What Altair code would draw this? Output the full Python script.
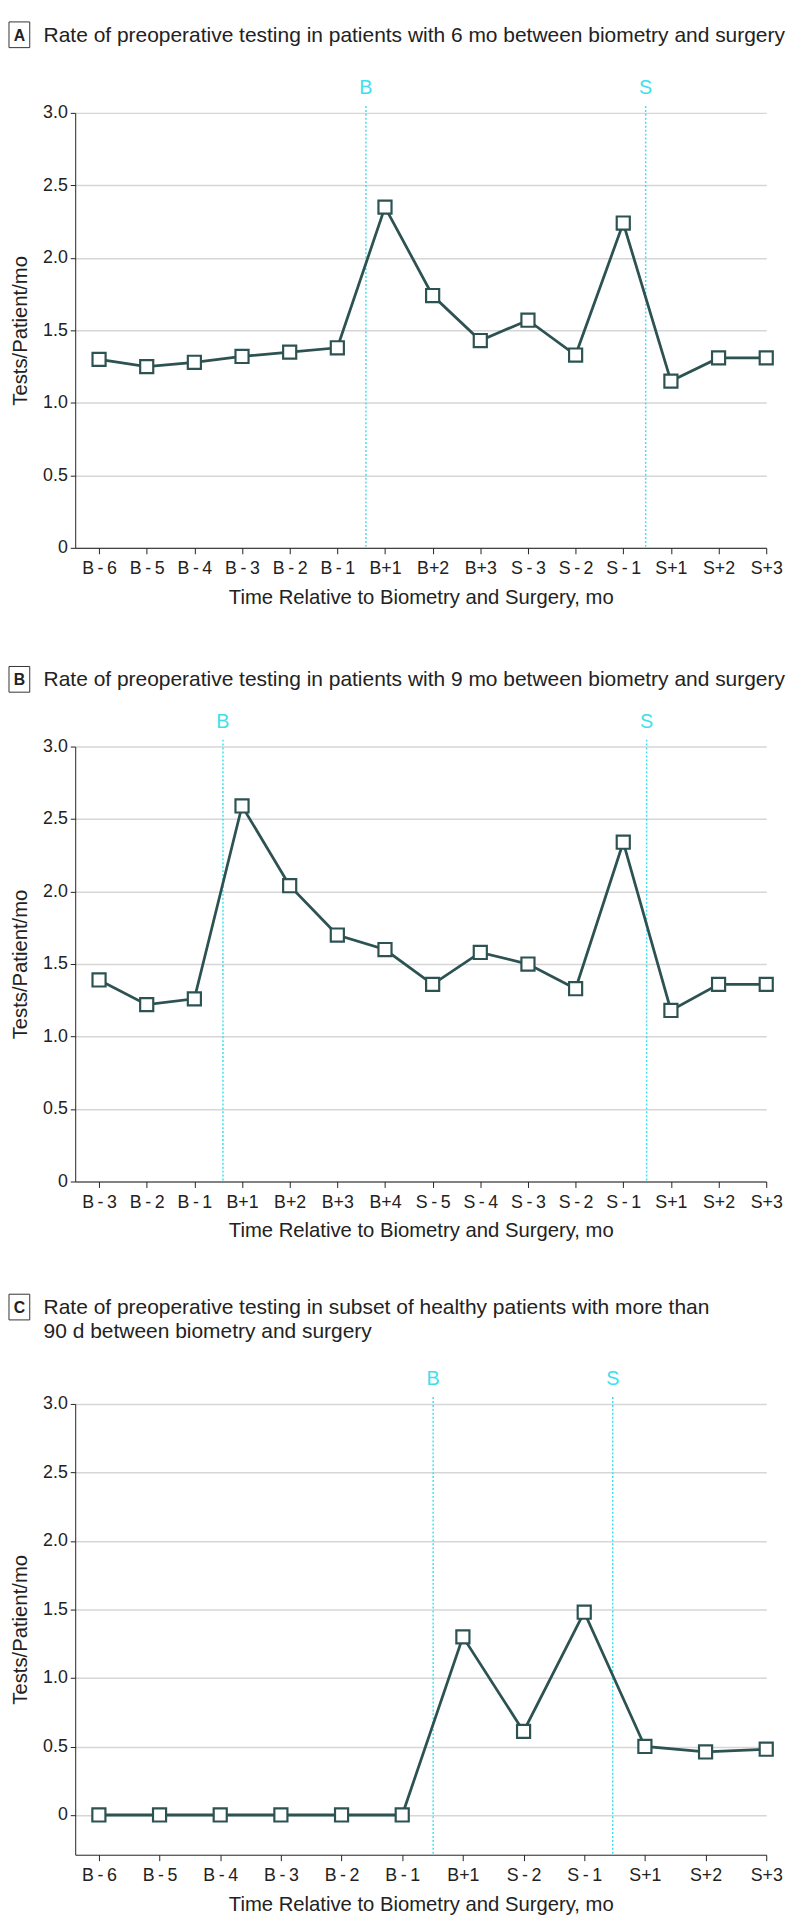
import altair as alt
import pandas as pd

FONT = "Liberation Sans"
LINE = "#2d5252"
CYAN = "#3ee0ee"
TXT = "#222222"

# ---------------- data ----------------
a_labels = ["B-6", "B-5", "B-4", "B-3", "B-2", "B-1", "B+1", "B+2", "B+3",
            "S-3", "S-2", "S-1", "S+1", "S+2", "S+3"]
a_values = [1.30, 1.25, 1.28, 1.32, 1.35, 1.38, 2.35, 1.74, 1.43,
            1.57, 1.33, 2.24, 1.15, 1.31, 1.31]
a_events = ["B", "S"]
a_event_pos = [5.6, 11.47]

b_labels = ["B-3", "B-2", "B-1", "B+1", "B+2", "B+3", "B+4", "S-5", "S-4",
            "S-3", "S-2", "S-1", "S+1", "S+2", "S+3"]
b_values = [1.39, 1.22, 1.26, 2.59, 2.04, 1.70, 1.60, 1.36, 1.58,
            1.50, 1.33, 2.34, 1.18, 1.36, 1.36]
b_events = ["B", "S"]
b_event_pos = [2.6, 11.49]

c_labels = ["B-6", "B-5", "B-4", "B-3", "B-2", "B-1", "B+1", "S-2", "S-1",
            "S+1", "S+2", "S+3"]
c_values = [0, 0, 0, 0, 0, 0, 1.30, 0.61, 1.48, 0.50, 0.46, 0.48]
c_events = ["B", "S"]
c_event_pos = [5.51, 8.47]

titles = {
    "A": ["Rate of preoperative testing in patients with 6 mo between biometry and surgery"],
    "B": ["Rate of preoperative testing in patients with 9 mo between biometry and surgery"],
    "C": ["Rate of preoperative testing in subset of healthy patients with more than",
          "90 d between biometry and surgery"],
}
y_ticks = [0, 0.5, 1.0, 1.5, 2.0, 2.5, 3.0]

W = 699


def panel(letter, labels, values, events, event_pos, ydomain, height,
          xmin, top_bound, title_y, event_y):
    n = len(labels)
    df = pd.DataFrame({"idx": list(range(n)), "label": labels, "value": values})
    disp = [l.replace("-", "\u2009-\u2009") for l in labels]
    label_expr = "[" + ",".join("'" + d + "'" for d in disp) + "][datum.value]"

    x = alt.X("idx:Q",
              scale=alt.Scale(domain=[xmin, n - 1], nice=False, zero=False),
              axis=alt.Axis(values=list(range(n)), labelExpr=label_expr,
                            title="Time Relative to Biometry and Surgery, mo",
                            grid=False, labelAngle=0, tickSize=6, labelPadding=6,
                            titlePadding=10, labelOverlap=False, labelFlush=False,
                            labelBound=False))
    y = alt.Y("value:Q",
              scale=alt.Scale(domain=ydomain, nice=False, zero=False),
              axis=alt.Axis(values=y_ticks,
                            labelExpr="datum.value == 0 ? '0' : format(datum.value, '.1f')",
                            title="Tests/Patient/mo", grid=True, tickSize=5,
                            labelPadding=3, titleX=-55, titleY=height / 2,
                            titleAngle=270, titleAlign="center",
                            titleBaseline="middle"))

    ev = pd.DataFrame({"idx": event_pos, "name": events})
    rules = alt.Chart(ev).mark_rule(color=CYAN, strokeDash=[2, 2], strokeWidth=1.5).encode(
        x="idx:Q", y=alt.value(-7), y2=alt.value(height))
    ev_text = alt.Chart(ev).mark_text(color=CYAN, fontSize=20, font=FONT,
                                      baseline="middle").encode(
        x="idx:Q", y=alt.value(event_y), text="name:N")

    base = alt.Chart(df)
    line = base.mark_line(color=LINE, strokeWidth=2.8).encode(x=x, y=y)
    pts = base.mark_point(shape="square", filled=True, fill="white", stroke=LINE,
                          strokeWidth=2.2, size=175, opacity=1).encode(x="idx:Q", y="value:Q")

    one = alt.Data(values=[{"k": 1}])
    box = alt.Chart(one).mark_rect(fill="white", stroke="#333333", strokeWidth=1).encode(
        x=alt.value(-67), x2=alt.value(-46), y=alt.value(title_y - 13), y2=alt.value(title_y + 13))
    let = alt.Chart(one).mark_text(text=letter, fontWeight="bold", fontSize=16,
                                   font=FONT, color=TXT,
                                   baseline="middle").encode(
        x=alt.value(-56.5), y=alt.value(title_y + 1))
    layers = [rules, ev_text, line, pts, box, let]
    for i, t in enumerate(titles[letter]):
        layers.append(alt.Chart(one).mark_text(text=t, fontSize=21.2, font=FONT, color=TXT,
                                               align="left", baseline="middle").encode(
            x=alt.value(-32), y=alt.value(title_y + 1 + 24 * i)))
    bound = alt.Chart(one).mark_rule(opacity=0, strokeOpacity=0).encode(
        x=alt.value(0), x2=alt.value(4), y=alt.value(-top_bound), y2=alt.value(-top_bound))
    layers.append(bound)
    return alt.layer(*layers).properties(width=W, height=height)


pa = panel("A", a_labels, a_values, a_events, a_event_pos, [0, 3], 440, -0.5, 95, -79, -25)
pb = panel("B", b_labels, b_values, b_events, b_event_pos, [0, 3], 440, -0.5, 140, -68, -25)
pc = panel("C", c_labels, c_values, c_events, c_event_pos, [-0.29, 3], 456, -0.39, 164, -98, -25)

chart = alt.vconcat(pa, pb, pc, spacing=0).properties(
    padding={"left": 0, "top": 0, "right": 0, "bottom": 0}
).configure_view(stroke=None).configure_axis(
    labelFont=FONT, labelFontSize=18, labelColor=TXT,
    titleFont=FONT, titleFontSize=20.5, titleColor=TXT, titleFontWeight="normal",
    domainColor=TXT, domainWidth=1, tickColor=TXT, tickWidth=1,
    gridColor="#d6d6d6", gridWidth=1.5
)

chart.save("out.html", embed_options={"renderer": "svg", "actions": False})
